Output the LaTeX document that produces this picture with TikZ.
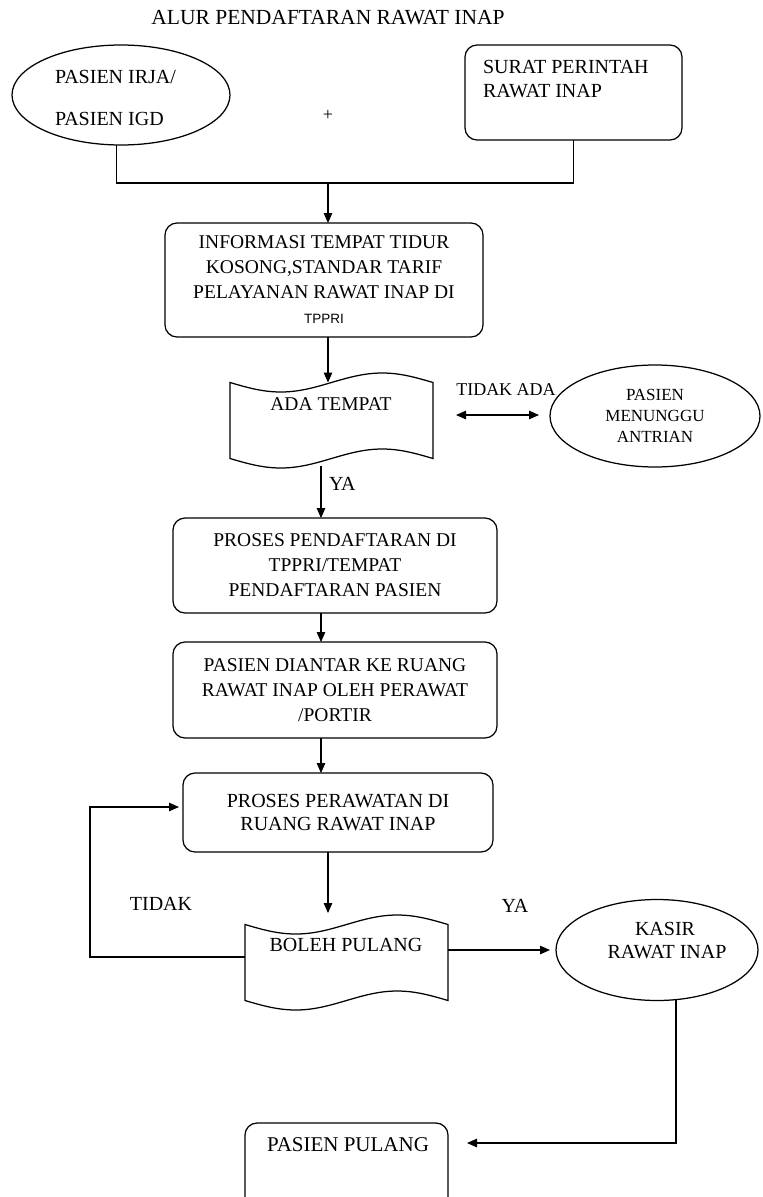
\documentclass[tikz,border=0pt]{standalone}
\usepackage{fontspec}
\setmainfont{Liberation Serif}
\newfontfamily\tpfont{Liberation Sans}
\usetikzlibrary{arrows.meta,shapes.geometric,calc}
\begin{document}
\begin{tikzpicture}[x=1pt,y=-1pt,
  line width=1.25pt,
  every node/.style={inner sep=0pt, outer sep=0pt},
  rbox/.style={draw, rounded corners=12pt, align=center, font=\fontsize{19.5}{25}\selectfont},
  oval/.style={draw, ellipse},
  lbl/.style={font=\fontsize{20}{24}\selectfont},
  capt/.style={text height=0.68em, text depth=0pt},
  arr/.style={-{Triangle[length=10pt,width=8.5pt]}},
  darr/.style={{Triangle[length=10pt,width=8.5pt]}-{Triangle[length=10pt,width=8.5pt]}},
]
\fill[white] (0,0) rectangle (763,1197);
\useasboundingbox (0,0) rectangle (763,1197);

% title
\node[lbl, capt, font=\fontsize{21.5}{24}\selectfont] (title) at (328,21) {ALUR PENDAFTARAN RAWAT INAP};

% top inputs
\node[oval, minimum width=218pt, minimum height=100pt] (irja) at (121,95) {};
\node[lbl, capt, anchor=west] (irja1) at (55,80) {PASIEN IRJA/};
\node[lbl, capt, anchor=west] (irja2) at (55,122) {PASIEN IGD};

\node[draw, rounded corners=12pt, minimum width=217pt, minimum height=95pt] (surat) at (573.5,92.5) {};
\node[lbl, capt, anchor=west] (surat1) at (483,70) {SURAT PERINTAH};
\node[lbl, capt, anchor=west] (surat2) at (483,94) {RAWAT INAP};

\node[font=\fontsize{18}{18}\selectfont] (plus) at (328,115) {+};

\coordinate (join) at (328,183);
\draw (irja.265) |- (join) -| (surat.south);

% info box
\node[rbox, minimum width=318pt, minimum height=114pt] (info) at (324,280)
  {INFORMASI TEMPAT TIDUR\\KOSONG,STANDAR TARIF\\PELAYANAN RAWAT INAP DI\\{\tpfont\fontsize{13.5}{14}\selectfont TPPRI}};
\draw[arr] (join) -- (join |- info.north);

% ADA TEMPAT (punched tape)
\node[minimum width=203pt, minimum height=76pt] (ada) at (331.5,420.5) {};
\draw (ada.north west) sin ++(50.75,9.5) cos ++(50.75,-9.5) sin ++(50.75,-9.5) cos ++(50.75,9.5)
  -- (ada.south east) sin ++(-50.75,-9.5) cos ++(-50.75,9.5) sin ++(-50.75,9.5) cos ++(-50.75,-9.5) -- cycle;
\node[lbl, capt, font=\fontsize{19.5}{24}\selectfont] (adat) at (331,407) {ADA TEMPAT};
\draw[arr] (info.south -| join) -- (join |- ada.north);

% TIDAK ADA -> antrian
\node[capt, font=\fontsize{18}{18}\selectfont] (tidakada) at (506,392) {TIDAK ADA};
\node[oval, minimum width=210pt, minimum height=102pt, align=center, font=\fontsize{17}{21}\selectfont] (antri) at (655,416) {PASIEN\\MENUNGGU\\ANTRIAN};
\coordinate (dl) at ([yshift=5.5pt]ada.east);
\draw[darr, shorten <=23pt, shorten >=11pt] (dl) -- (dl -| antri.west);

% YA
\coordinate (ya1) at (321,466);
\node[lbl, capt, anchor=west] (ya) at (329,487) {YA};

% pendaftaran
\node[rbox, minimum width=324pt, minimum height=95pt] (daft) at (335,565.5)
  {PROSES PENDAFTARAN DI\\TPPRI/TEMPAT\\PENDAFTARAN PASIEN};
\draw[arr] (ya1) -- (ya1 |- daft.north);

% diantar
\node[rbox, minimum width=324pt, minimum height=96pt] (antar) at (335,690)
  {PASIEN DIANTAR KE RUANG\\RAWAT INAP OLEH PERAWAT\\/PORTIR};
\draw[arr] (daft.south -| ya1) -- (antar.north -| ya1);

% perawatan
\node[rbox, font=\fontsize{20}{23}\selectfont, minimum width=310pt, minimum height=79pt] (rawat) at (338,812.5)
  {PROSES PERAWATAN DI\\RUANG RAWAT INAP};
\draw[arr] (antar.south -| ya1) -- (rawat.north -| ya1);

% BOLEH PULANG (punched tape)
\node[minimum width=203pt, minimum height=76pt] (boleh) at (346.5,962.5) {};
\draw (boleh.north west) sin ++(50.75,9.5) cos ++(50.75,-9.5) sin ++(50.75,-9.5) cos ++(50.75,9.5)
  -- (boleh.south east) sin ++(-50.75,-9.5) cos ++(-50.75,9.5) sin ++(-50.75,9.5) cos ++(-50.75,-9.5) -- cycle;
\node[lbl, capt] (bolehT) at (346,948) {BOLEH PULANG};
\coordinate (c2) at (328,852);
\draw[arr, shorten >=11.5pt] (c2) -- (c2 |- boleh.north);

\node[lbl, capt] (tidak) at (161,907) {TIDAK};
\node[lbl, capt] (ya2) at (515,909) {YA};

% loop back
\draw[arr, shorten >=4pt] ([yshift=5.5pt]boleh.west) -- ++(-155,0) |- ([yshift=5.5pt]rawat.west);

% kasir
\node[oval, minimum width=202pt, minimum height=101pt] (kasir) at (657,950) {};
\node[lbl, capt] (kasir1) at (665,932) {KASIR};
\node[lbl, capt] (kasir2) at (667,955) {RAWAT INAP};
\draw[arr, shorten >=6pt] (boleh.east |- kasir.west) -- (kasir.west);

% pasien pulang
\node[draw, rounded corners=12pt, minimum width=203pt, minimum height=92pt] (pulang) at (346.5,1169) {};
\node[lbl, capt, font=\fontsize{21}{24}\selectfont] (pulangt) at (348,1148) {PASIEN PULANG};
\draw[arr] (kasir.-69) |- ([xshift=19pt,yshift=26pt]pulang.east);
\end{tikzpicture}
\end{document}
